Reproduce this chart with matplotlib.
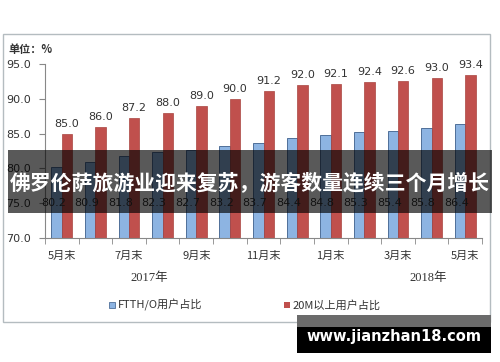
#Bar chart: FTTH/O vs 20M+ user share, with banner overlay

import numpy as np
import matplotlib.pyplot as plt
from matplotlib.patches import Rectangle

plt.rcParams['font.family'] = ['Noto Sans CJK SC', 'DejaVu Sans']

#Data
months = ['5月末', '6月末', '7月末', '8月末', '9月末', '10月末', '11月末',
          '12月末', '1月末', '2月末', '3月末', '4月末', '5月末']
ftth = [80.2, 80.9, 81.8, 82.3, 82.7, 83.2, 83.7, 84.4, 84.8, 85.3, 85.4, 85.8, 86.4]
above20m = [85.0, 86.0, 87.2, 88.0, 89.0, 90.0, 91.2, 92.0, 92.1, 92.4, 92.6, 93.0, 93.4]
years = ['2017年', '2018年']
series_names = ['FTTH/O用户占比', '20M以上用户占比']
title = '佛罗伦萨旅游业迎来复苏，游客数量连续三个月增长'

blue = '#8db4e2'
blue_edge = '#4f6f99'
red = '#c0504d'

fig = plt.figure(figsize=(5, 3.62), dpi=100)
ax = fig.add_axes([0.09, 0.3425, 0.874, 0.4805])

x = np.arange(len(months))
w = 0.31
ax.bar(x - w/2, ftth, w, color=blue, edgecolor=blue_edge, linewidth=0.7, zorder=2)
ax.bar(x + w/2, above20m, w, color=red, edgecolor='#a94440', linewidth=0.5, zorder=2)

#Value labels (the FTTH ones sit low, mostly under the banner)
for i in range(len(months)):
    ax.text(x[i] + w/2, above20m[i] + 0.7, f'{above20m[i]:.1f}', ha='center', va='bottom',
            fontsize=8, color='#333333', family='DejaVu Sans')
    ax.text(x[i] - w/2 - 0.1, 75.0, f'{ftth[i]:.1f}', ha='center', va='center',
            fontsize=8, color='#333333', family='DejaVu Sans', zorder=3)

ax.set_ylim(70, 95)
ax.set_xlim(-0.5, len(months) - 0.5)
ax.set_yticks([70, 75, 80, 85, 90, 95])
ax.set_yticklabels([f'{v:.1f}' for v in [70, 75, 80, 85, 90, 95]], fontsize=8,
                   family='DejaVu Sans', color='#333333')
ax.set_xticks(x[::2])
ax.set_xticklabels(months[::2], fontsize=8, color='#333333')
ax.set_xticks(np.arange(-0.5, len(months)), minor=True)
ax.tick_params(axis='x', which='major', length=0, pad=9)
ax.tick_params(axis='x', which='minor', length=4, color='#888888')
ax.tick_params(axis='y', length=4, color='#888888', pad=6)
for s in ['top', 'right']:
    ax.spines[s].set_visible(False)
for s in ['left', 'bottom']:
    ax.spines[s].set_color('#888888')
    ax.spines[s].set_linewidth(0.8)

#Year labels
ax.text(2.6, -0.23, years[0], transform=ax.get_xaxis_transform(), ha='center', va='center',
        fontsize=9, color='#333333', family=['Liberation Serif', 'Noto Sans CJK SC'])
ax.text(10.9, -0.23, years[1], transform=ax.get_xaxis_transform(), ha='center', va='center',
        fontsize=9, color='#333333', family=['Liberation Serif', 'Noto Sans CJK SC'])

#Legend
fig.patches.append(Rectangle((0.218, 0.148), 0.012, 0.017, transform=fig.transFigure,
                             facecolor=blue, edgecolor=blue_edge, linewidth=0.6))
fig.text(0.236, 0.157, series_names[0], fontsize=8, color='#333333', va='center')
fig.patches.append(Rectangle((0.568, 0.148), 0.012, 0.017, transform=fig.transFigure,
                             facecolor=red, edgecolor='none'))
fig.text(0.585, 0.157, series_names[1], fontsize=8, color='#333333', va='center')

fig.text(0.016, 0.862, '单位：%', fontsize=8, fontweight='bold', color='#333333', va='center')

#Chart frame
fig.patches.append(Rectangle((0.006, 0.110), 0.974, 0.796, transform=fig.transFigure,
                             facecolor='none', edgecolor='#b4bcc0', linewidth=1))

#Banner overlay
fig.patches.append(Rectangle((0.016, 0.4116), 0.968, 0.174, transform=fig.transFigure,
                             facecolor='black', alpha=0.65, edgecolor='none', zorder=5))
fig.text(0.5, 0.497, title, ha='center', va='center', fontsize=15, fontweight='bold',
         color='white', zorder=6)

#Watermark
fig.patches.append(Rectangle((0.594, 0.097), 0.388, 0.033, transform=fig.transFigure,
                             facecolor='#6b6b6b', edgecolor='none', zorder=5))
fig.patches.append(Rectangle((0.594, 0.025), 0.388, 0.072, transform=fig.transFigure,
                             facecolor='black', edgecolor='none', zorder=5))
fig.text(0.788, 0.07, 'www.jianzhan18.com', ha='center', va='center', fontsize=10.5,
         fontweight='bold', color='white', family='DejaVu Sans', zorder=6)

fig.savefig('out.png', dpi=100)
